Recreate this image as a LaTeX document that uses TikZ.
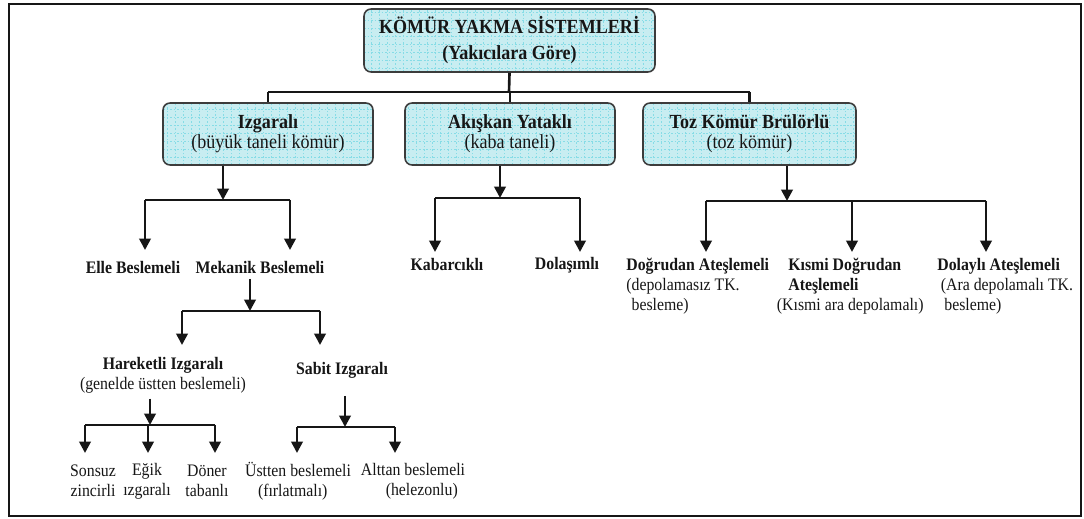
\documentclass[tikz,border=0pt]{standalone}
\usepackage{fontspec}
\setmainfont[FakeStretch=0.9]{Liberation Serif}
\usetikzlibrary{arrows.meta}
\definecolor{Ink}{HTML}{161616}
\definecolor{BoxFill}{HTML}{C8EDF1}
\definecolor{BoxGrid}{HTML}{86DCE6}
\definecolor{BoxEdge}{HTML}{3C3C3C}
\newcommand{\titlefont}{\fontsize{11.4}{14.8}\selectfont\bfseries}
\newcommand{\boxfont}{\fontsize{11.4}{11.4}\selectfont}
\newcommand{\leaffont}{\fontsize{10}{11.4}\selectfont}

\begin{document}
\begin{tikzpicture}[x=0.02cm,y=-0.02cm,
    frame/.style={draw=Ink,line width=1.3pt},
    catbox/.style={draw=BoxEdge,line width=0.9pt,fill=BoxFill,rounded corners=4pt,
        align=center,text=Ink,font=\boxfont,inner sep=2pt,
        path picture={\draw[BoxGrid,line width=0.3pt,dash pattern=on 1pt off 1pt]
            (path picture bounding box.south west) grid[step=0.16cm]
            (path picture bounding box.north east);}},
    leaf/.style={text=Ink,font=\leaffont,inner sep=0pt,align=center},
    link/.style={draw=Ink,line width=1.5pt},
    arrowlink/.style={link,-{Triangle[length=6.5pt,width=6.5pt]}}]
  \useasboundingbox (0,0) rectangle (1084,519);
  \draw[frame] (9,4) rectangle (1081,516);

  % top and first level
  \node[catbox,minimum width=5.82cm,minimum height=1.26cm,font=\titlefont] (title)
        at (509.5,40.5) {KÖMÜR YAKMA SİSTEMLERİ\\(Yakıcılara Göre)};
  \node[catbox,minimum width=4.2cm,minimum height=1.24cm] (izg) at (268,134)
        {\textbf{Izgaralı}\\(büyük taneli kömür)};
  \node[catbox,minimum width=4.2cm,minimum height=1.24cm] (aky) at (510,134)
        {\textbf{Akışkan Yataklı}\\(kaba taneli)};
  \node[catbox,minimum width=4.26cm,minimum height=1.24cm] (toz) at (749.5,134)
        {\textbf{Toz Kömür Brülörlü}\\(toz kömür)};

  \coordinate (topj) at (509,92);
  \draw[link] (title.south) -- (topj);
  \draw[link] (izg.north |- topj) -- (toz.north |- topj);
  \foreach \b in {izg,aky,toz}
    \draw[link] (\b.north |- topj) -- (\b.north);

  % Izgarali branch
  \coordinate (izj) at (223,200);
  \coordinate (elleT) at (145,250);
  \coordinate (mekT) at (290,250);
  \draw[arrowlink] (izg.south -| izj) -- (izj);
  \draw[link] (elleT |- izj) -- (mekT |- izj);
  \foreach \t in {elleT,mekT}
    \draw[arrowlink] (\t |- izj) -- (\t);
  \node[leaf,font=\leaffont\bfseries] (elle) at (133,267) {Elle Beslemeli};
  \node[leaf,font=\leaffont\bfseries] (mek) at (260,267) {Mekanik Beslemeli};

  \coordinate (mekj) at (250,311);
  \coordinate (hareT) at (182,345);
  \coordinate (sabT) at (320,345);
  \draw[arrowlink] ([yshift=-3pt]mek.south -| mekj) -- (mekj);
  \draw[link] (hareT |- mekj) -- (sabT |- mekj);
  \foreach \t in {hareT,sabT}
    \draw[arrowlink] (\t |- mekj) -- (\t);
  \node[leaf] (hare) at (163,375) {\textbf{Hareketli Izgaralı}\\(genelde üstten beslemeli)};
  \node[leaf,font=\leaffont\bfseries] (sab) at (342,370) {Sabit Izgaralı};

  \coordinate (harej) at (150,425);
  \draw[arrowlink] ([yshift=-3pt]hare.south -| harej) -- (harej);
  \coordinate (sonT) at (85,453);
  \coordinate (egT) at (148,453);
  \coordinate (donT) at (215,453);
  \draw[link] (sonT |- harej) -- (donT |- harej);
  \foreach \t in {sonT,egT,donT}
    \draw[arrowlink] (\t |- harej) -- (\t);
  \node[leaf] (son) at (93,481) {Sonsuz\\zincirli};
  \node[leaf] (egik) at (147,481) {Eğik\\ızgaralı};
  \node[leaf] (don) at (207,481) {Döner\\tabanlı};

  \coordinate (sabs) at (345,396);
  \coordinate (sabj) at (345,427);
  \coordinate (ustT) at (297,453);
  \coordinate (altT) at (395,453);
  \draw[arrowlink] (sabs) -- (sabj);
  \draw[link] (ustT |- sabj) -- (altT |- sabj);
  \foreach \t in {ustT,altT}
    \draw[arrowlink] (\t |- sabj) -- (\t);
  \node[leaf] (ust) at (298,481) {Üstten beslemeli\\(fırlatmalı)\hspace*{0.6em}};
  \node[leaf] (alt) at (413,481) {Alttan beslemeli\\\hspace*{1em}(helezonlu)};

  % Akiskan branch
  \coordinate (akj) at (500,198);
  \coordinate (kabT) at (435,252);
  \coordinate (dolT) at (580,252);
  \draw[arrowlink] (aky.south -| akj) -- (akj);
  \draw[link] (kabT |- akj) -- (dolT |- akj);
  \foreach \t in {kabT,dolT}
    \draw[arrowlink] (\t |- akj) -- (\t);
  \node[leaf,font=\leaffont\bfseries] (kab) at (447,264) {Kabarcıklı};
  \node[leaf,font=\leaffont\bfseries] (dol) at (567,265) {Dolaşımlı};

  % Toz komur branch
  \coordinate (tozj) at (787,201);
  \coordinate (dogT) at (706,252);
  \coordinate (ksmT) at (852,252);
  \coordinate (dlyT) at (986,252);
  \draw[arrowlink] (toz.south -| tozj) -- (tozj);
  \draw[link] (dogT |- tozj) -- (dlyT |- tozj);
  \foreach \t in {dogT,ksmT,dlyT}
    \draw[arrowlink] (\t |- tozj) -- (\t);
  \node[leaf,align=left,anchor=north west] (dog) at (626,258)
        {\textbf{Doğrudan Ateşlemeli}\\(depolamasız TK.\\\hspace*{0.3em}besleme)};
  \node[leaf,align=left,anchor=north west] (ksm) at (788,258)
        {\textbf{Kısmi Doğrudan}\\\textbf{Ateşlemeli}\\\hspace*{-0.65em}(Kısmi ara depolamalı)};
  \node[leaf,align=left,anchor=north west] (dly) at (937,258)
        {\textbf{Dolaylı Ateşlemeli}\\\hspace*{0.2em}(Ara depolamalı TK.\\\hspace*{0.4em}besleme)};
\end{tikzpicture}
\end{document}
